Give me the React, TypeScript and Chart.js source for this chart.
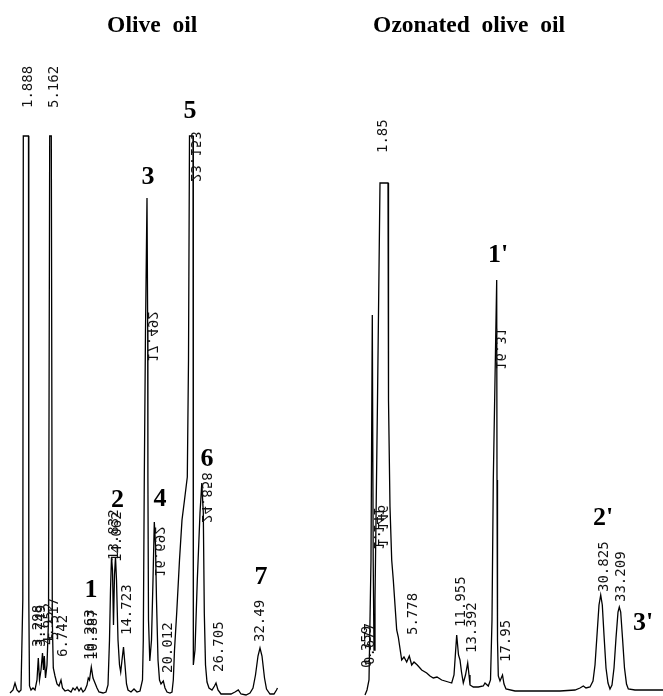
import { useEffect, useRef } from "react";
import { Chart, registerables } from "chart.js";

Chart.register(...registerables);

// ---------- Olive oil chromatogram (retention time, min / detector signal, a.u.) ----------
const OLIVE_TIME = [
  -0.263, 0.132, 0.395, 0.658, 0.921, 1.184, 1.421, 1.487, 2.171, 2.211, 2.303, 2.5, 2.763, 3.026,
  3.289, 3.461, 3.618, 3.816, 4.013, 4.145, 4.25, 4.408, 4.605, 4.803, 4.961, 5.171, 5.303, 5.434,
  5.658, 5.921, 6.184, 6.447, 6.645, 6.974, 7.368, 7.763, 8.026, 8.289, 8.553, 8.816, 9.079, 9.342,
  9.605, 9.868, 10.039, 10.197, 10.434, 10.658, 10.921, 11.184, 11.447, 11.974, 12.368, 12.632,
  12.829, 12.961, 13.092, 13.224, 13.355, 13.487, 13.618, 13.75, 13.947, 14.145, 14.303, 14.474,
  14.671, 14.868, 15.066, 15.263, 15.658, 16.053, 16.447, 16.842, 17.171, 17.276, 17.408, 17.566,
  17.763, 17.855, 17.882, 17.961, 18.132, 18.355, 18.553, 18.724, 18.882, 19.013, 19.211, 19.408,
  19.605, 19.908, 20.132, 20.395, 20.789, 21.053, 21.224, 21.382, 21.671, 22.039, 22.368, 22.697,
  23.066, 23.224, 23.355, 23.816, 23.829, 23.855, 23.895, 24.079, 24.382, 24.737, 24.974, 25.171,
  25.303, 25.461, 25.658, 25.921, 26.316, 26.645, 26.842, 27.105, 27.5, 28.158, 28.816, 29.342,
  29.776, 30.132, 30.789, 31.316, 31.711, 32.039, 32.368, 32.632, 32.895, 33.224, 33.487, 33.947,
  34.474, 34.803, 34.934,
];
const OLIVE_SIGNAL = [
  -1, 2, 9, 2, 0, 2, 92, 556, 556, 92, 6, 2, 4, 2,
  12, 34, 12, 22, 39, 22, 36, 14, 27, 72, 556, 556, 72, 24,
  16, 8, 6, 12, 4, 1, 2, 0, 4, 2, 5, 1, 4, 0,
  2, 7, 14, 12, 25, 14, 9, 4, 0, -1, 0, 7,
  52, 102, 135, 122, 67, 117, 135, 112, 52, 27, 20, 32,
  45, 27, 8, 2, 0, 3, 0, 1, 12, 52, 215, 362,
  494, 362, 215, 72, 31, 52, 112, 170, 147, 92, 32, 12,
  8, 11, 4, 0, -1, 0, 12, 42, 79, 132, 172, 192,
  215, 332, 556, 556, 212, 92, 27, 42, 112, 179, 209, 179,
  79, 27, 10, 4, 2, 6, 9, 2, -2, -2, -2, 0,
  2, -2, -3, -1, 4, 17, 36, 44, 36, 14, 3, -2,
  -2, 2, 4,
];

// ---------- Ozonated olive oil chromatogram ----------
const OZONE_TIME = [
  -0.132, 0.132, 0.395, 0.658, 0.829, 0.947, 1.053, 1.184, 1.513, 1.842, 2.895, 2.961, 3.158,
  3.382, 3.592, 4.039, 4.25, 4.697, 5.0, 5.355, 5.697, 6.013, 6.316, 6.75, 7.329, 7.987, 8.421,
  8.855, 9.342, 9.961, 10.395, 10.829, 11.276, 11.579, 11.934, 12.171, 12.368, 12.566, 12.803,
  13.092, 13.382, 13.553, 13.684, 14.118, 14.776, 15.434, 15.658, 16.092, 16.382, 16.579, 16.75,
  17.197, 17.237, 17.303, 17.408, 17.632, 17.961, 18.158, 18.421, 19.605, 21.579, 23.553, 25.526,
  27.5, 28.158, 28.592, 28.947, 29.474, 29.868, 30.132, 30.395, 30.658, 30.882, 31.092, 31.316,
  31.579, 31.842, 32.105, 32.368, 32.632, 32.895, 33.158, 33.329, 33.513, 33.75, 34.013, 34.276,
  34.513, 35.395, 36.711, 38.026, 39.079,
];
const OZONE_SIGNAL = [
  -5, 0, 10, 130, 375, 130, 40, 90, 290, 507, 507, 290, 183,
  130, 110, 60, 53, 30, 33, 28, 34, 25, 28, 25, 20, 17, 14,
  12, 13, 10, 9, 8, 7, 15, 55, 35, 30, 18, 7,
  15, 27, 15, 5, 3, 3, 4, 7, 4, 10, 70, 210,
  410, 210, 50, 14, 9, 15, 6, 1, -1, -1, -1, -1,
  0, 2, 4, 2, 3, 9, 25, 55, 85, 95, 85, 55,
  22, 7, 1, 5, 22, 52, 78, 83, 78, 52, 22, 6,
  1, 0, 0, 0, 0,
];

// ---------- Retention-time annotations printed by the integrator ----------
const OLIVE_RT_TEXT = [
  "1.888", "5.162", "3.298", "3.749", "4.952", "5.517", "6.742", "10.263", "10.387", "13.832",
  "14.062", "14.723", "17.492", "16.692", "20.012", "23.153", "24.858", "26.705", "32.49",
];
const OLIVE_RT_AT = [
  2.171, 5.526, 3.421, 3.816, 4.868, 5.526, 6.711, 10.329, 10.658, 13.421,
  13.816, 15.197, 18.355, 19.342, 20.618, 24.079, 25.526, 27.237, 32.632,
];
const OLIVE_RT_LEVEL = [584, 584, 45, 45, 47, 52, 35, 32, 32, 132, 130, 57, 330, 115, 19, 510, 169, 20, 50];
const OLIVE_RT_MIRROR = [
  false, false, false, false, false, false, false, false, false, false,
  false, false, true, true, false, true, true, false, false,
];

const OZONE_RT_TEXT = [
  "1.85", "1.141", "1.146", "0.359", "0.677", "5.778", "11.955", "13.392", "16.31", "17.95",
  "30.825", "33.209",
];
const OZONE_RT_AT = [2.237, 1.579, 2.039, 0.197, 0.526, 6.25, 12.5, 13.947, 17.632, 18.421, 31.316, 33.618];
const OZONE_RT_LEVEL = [537, 140, 143, 22, 25, 55, 63, 37, 320, 28, 98, 88];
const OZONE_RT_MIRROR = [false, true, true, false, false, false, false, false, true, false, false, false];

// ---------- Peak numbers ----------
const OLIVE_PEAK_TEXT = ["1", "2", "3", "4", "5", "6", "7"];
const OLIVE_PEAK_AT = [10.395, 13.882, 17.895, 19.474, 23.421, 25.658, 32.763];
const OLIVE_PEAK_LEVEL = [102, 192, 515, 193, 581, 233, 115];

const OZONE_PEAK_TEXT = ["1'", "2'", "3'"];
const OZONE_PEAK_AT = [17.368, 31.184, 36.447];
const OZONE_PEAK_LEVEL = [435, 172, 67];

const PANEL_TITLES = ["Olive  oil", "Ozonated  olive  oil"];

const W = 663;
const H = 696;

const annotatePlugin = {
  id: "chromAnnotate",
  afterDatasetsDraw(chart: any) {
    const ctx = chart.ctx as CanvasRenderingContext2D;
    const s = chart.scales;

    const drawRt = (texts: string[], at: number[], lvl: number[], mir: boolean[], xs: any, ys: any) => {
      ctx.save();
      ctx.fillStyle = "#111";
      ctx.font = '14px "DejaVu Sans Mono", "Liberation Mono", monospace';
      ctx.textAlign = "left";
      ctx.textBaseline = "middle";
      texts.forEach((t, i) => {
        const px = xs.getPixelForValue(at[i]);
        const py = ys.getPixelForValue(lvl[i]);
        ctx.save();
        ctx.translate(px, py);
        ctx.rotate(-Math.PI / 2);
        if (mir[i]) ctx.scale(1, -1);
        ctx.fillText(t, 0, 0);
        ctx.restore();
      });
      ctx.restore();
    };

    const drawPeaks = (texts: string[], at: number[], lvl: number[], xs: any, ys: any) => {
      ctx.save();
      ctx.fillStyle = "#000";
      ctx.font = 'bold 26px "Liberation Serif", "Times New Roman", serif';
      ctx.textAlign = "center";
      ctx.textBaseline = "middle";
      texts.forEach((t, i) => {
        ctx.fillText(t, xs.getPixelForValue(at[i]), ys.getPixelForValue(lvl[i]));
      });
      ctx.restore();
    };

    drawRt(OLIVE_RT_TEXT, OLIVE_RT_AT, OLIVE_RT_LEVEL, OLIVE_RT_MIRROR, s.xL, s.yL);
    drawRt(OZONE_RT_TEXT, OZONE_RT_AT, OZONE_RT_LEVEL, OZONE_RT_MIRROR, s.xR, s.yR);
    drawPeaks(OLIVE_PEAK_TEXT, OLIVE_PEAK_AT, OLIVE_PEAK_LEVEL, s.xL, s.yL);
    drawPeaks(OZONE_PEAK_TEXT, OZONE_PEAK_AT, OZONE_PEAK_LEVEL, s.xR, s.yR);

    // panel titles
    ctx.save();
    ctx.fillStyle = "#000";
    ctx.font = 'bold 23.5px "Liberation Serif", "Times New Roman", serif';
    ctx.textAlign = "center";
    ctx.textBaseline = "alphabetic";
    ctx.fillText(PANEL_TITLES[0], W * 0.2295, 32);
    ctx.fillText(PANEL_TITLES[1], W * 0.7075, 32);
    ctx.restore();
  },
};

export default function App() {
  const ref = useRef<HTMLCanvasElement | null>(null);

  useEffect(() => {
    if (!ref.current) return;
    const olive = OLIVE_TIME.map((t, i) => ({ x: t, y: OLIVE_SIGNAL[i] }));
    const ozone = OZONE_TIME.map((t, i) => ({ x: t, y: OZONE_SIGNAL[i] }));
    const chart = new Chart(ref.current, {
      type: "line",
      data: {
        datasets: [
          {
            label: "Olive oil",
            data: olive,
            xAxisID: "xL",
            yAxisID: "yL",
            borderColor: "#000",
            borderWidth: 1.3,
            pointRadius: 0,
            tension: 0,
            fill: false,
            clip: false,
          } as any,
          {
            label: "Ozonated olive oil",
            data: ozone,
            xAxisID: "xR",
            yAxisID: "yR",
            borderColor: "#000",
            borderWidth: 1.3,
            pointRadius: 0,
            tension: 0,
            fill: false,
            clip: false,
          } as any,
        ],
      },
      options: {
        animation: false,
        responsive: false,
        maintainAspectRatio: false,
        devicePixelRatio: 1,
        layout: { padding: 0 },
        plugins: { legend: { display: false }, title: { display: false }, tooltip: { enabled: false } },
        events: [],
        scales: {
          xL: { type: "linear", display: false, min: -12 / 7.6, max: 651 / 7.6 },
          yL: { type: "linear", display: false, min: -4, max: 692 },
          xR: { type: "linear", display: false, min: -366 / 7.6, max: 297 / 7.6 },
          yR: { type: "linear", display: false, min: -6, max: 690 },
        },
      },
      plugins: [annotatePlugin],
    });
    return () => chart.destroy();
  }, []);

  return (
    <div style={{ position: "fixed", left: 0, top: 0, width: W, height: H, background: "#fff" }}>
      <canvas ref={ref} width={W} height={H} style={{ display: "block", width: W, height: H }} />
    </div>
  );
}
